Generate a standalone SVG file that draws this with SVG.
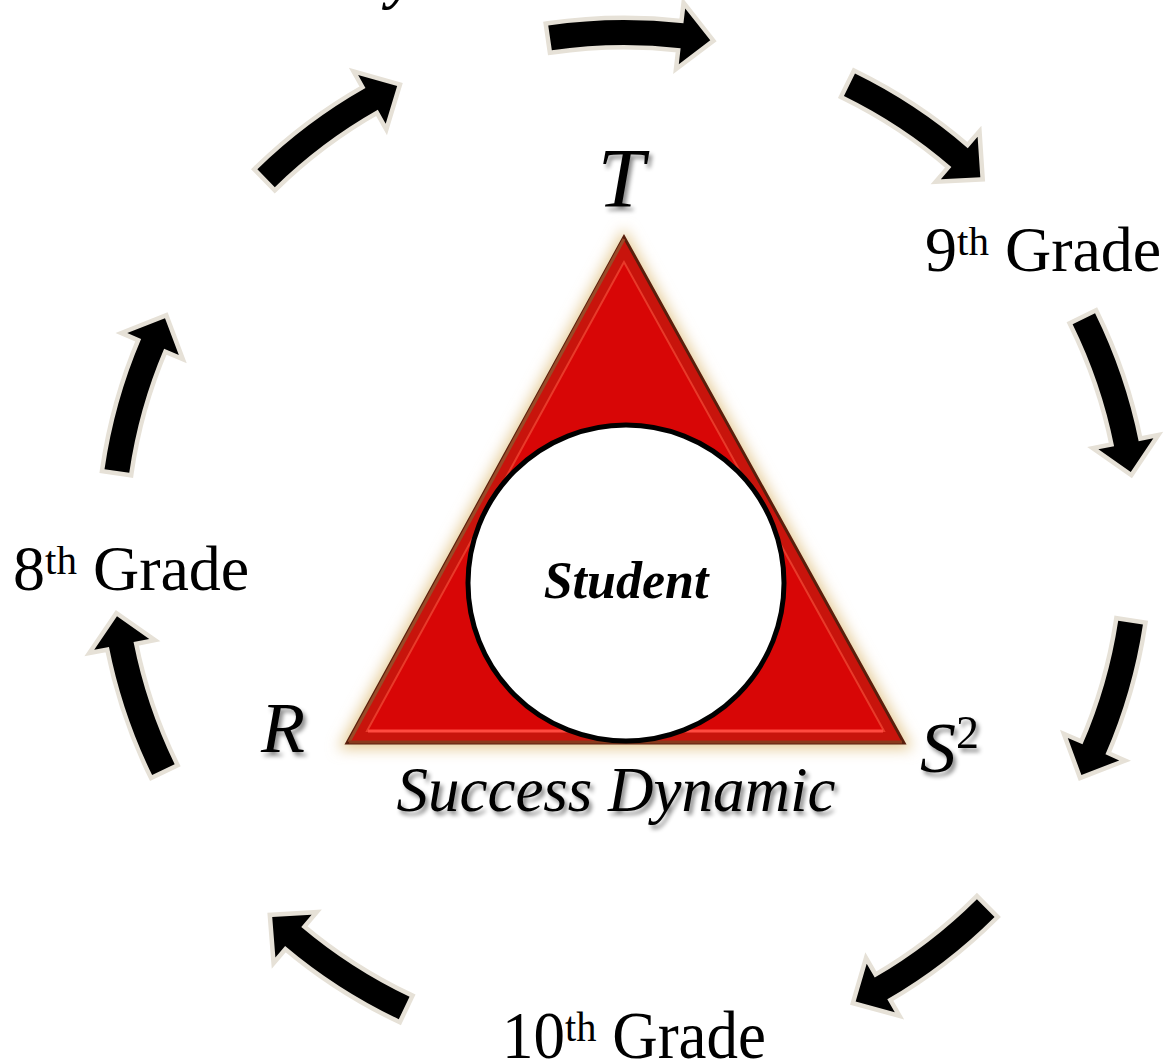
<svg xmlns="http://www.w3.org/2000/svg" xmlns:xlink="http://www.w3.org/1999/xlink" width="1165" height="1063" viewBox="0 0 1165 1063">
<defs>
<style>
.serif{font-family:"Liberation Serif","Times New Roman",serif;fill:#000}
.it{font-style:italic}
.arrow{fill:#000;stroke:#e6e1d7;stroke-width:9;stroke-linejoin:miter;paint-order:stroke}
</style>
<filter id="glow" x="-20%" y="-20%" width="140%" height="140%">
<feGaussianBlur stdDeviation="7"/>
</filter>
<filter id="shadow" x="-20%" y="-20%" width="140%" height="150%">
<feDropShadow dx="3" dy="4" stdDeviation="2" flood-color="#000" flood-opacity="0.45"/>
</filter>
<path id="arw" d="M475.5,-154.5 L499.3,-162.2 A525,525 0 0 1 524.2,-29.3 L539.2,-30.1 L512,0 L483.2,-27 L499.2,-27.9 A500,500 0 0 0 475.5,-154.5 Z"/>
</defs>
<rect width="1165" height="1063" fill="#fff"/>

<g id="connectors">
<use xlink:href="#arw" href="#arw" class="arrow" transform="translate(624,545) rotate(-80.3)"/>
<use xlink:href="#arw" href="#arw" class="arrow" transform="translate(624,545) rotate(-45.9)"/>
<use xlink:href="#arw" href="#arw" class="arrow" transform="translate(624,545) rotate(-8.2)"/>
<use xlink:href="#arw" href="#arw" class="arrow" transform="translate(624,545) rotate(26.7)"/>
<use xlink:href="#arw" href="#arw" class="arrow" transform="translate(624,545) rotate(63.1)"/>
<use xlink:href="#arw" href="#arw" class="arrow" transform="translate(624,545) rotate(133.4)"/>
<use xlink:href="#arw" href="#arw" class="arrow" transform="translate(624,545) rotate(172)"/>
<use xlink:href="#arw" href="#arw" class="arrow" transform="translate(624,545) rotate(206.3)"/>
<use xlink:href="#arw" href="#arw" class="arrow" transform="translate(624,545) rotate(243.7)"/>
</g>

<g id="top-label">
<text class="serif it" x="388" y="-3" font-size="60" font-weight="bold">y</text>
</g>

<g id="triangle">
<polygon points="624,228 338,749 913,749" fill="#e6cc98" filter="url(#glow)"/>
<polygon points="624,237 347,743 904,743" fill="#c8140c" stroke="#5a1e0c" stroke-width="3" stroke-linejoin="miter"/>
<line x1="624" y1="239" x2="349" y2="742" stroke="#9a4a28" stroke-width="3"/>
<line x1="349" y1="742" x2="902" y2="742" stroke="#8a3a1c" stroke-width="3"/>
<polygon points="624,262 367,731 884,731" fill="#d80606" stroke="#e83a2a" stroke-width="2"/>
<line x1="368" y1="731" x2="883" y2="731" stroke="#ff4a40" stroke-width="3"/>
</g>

<g id="student">
<circle cx="626" cy="583" r="158" fill="#fff" stroke="#000" stroke-width="5"/>
<text class="serif it" x="626" y="598" font-size="52" font-weight="bold" text-anchor="middle">Student</text>
</g>

<g id="label-T" filter="url(#shadow)">
<text class="serif it" x="621" y="207" font-size="84" text-anchor="middle">T</text>
</g>
<g id="label-R" filter="url(#shadow)">
<text class="serif it" x="283" y="752" font-size="72" text-anchor="middle">R</text>
</g>
<g id="label-S2" filter="url(#shadow)">
<text class="serif it" x="920" y="772" font-size="72">S<tspan font-style="normal" font-size="46" dy="-24">2</tspan></text>
</g>
<g id="label-success" filter="url(#shadow)">
<text class="serif it" x="616" y="811" font-size="63" text-anchor="middle">Success Dynamic</text>
</g>

<g id="grade-9">
<text class="serif" x="925" y="271" font-size="64">9<tspan font-size="41" dy="-16">th</tspan><tspan dy="16"> Grade</tspan></text>
</g>
<g id="grade-8">
<text class="serif" x="13" y="590" font-size="64">8<tspan font-size="41" dy="-16">th</tspan><tspan dy="16"> Grade</tspan></text>
</g>
<g id="grade-10">
<text class="serif" transform="translate(502,1058) scale(0.94,1)" x="0" y="0" font-size="67">10<tspan font-size="43" dy="-17">th</tspan><tspan dy="17"> Grade</tspan></text>
</g>
</svg>
